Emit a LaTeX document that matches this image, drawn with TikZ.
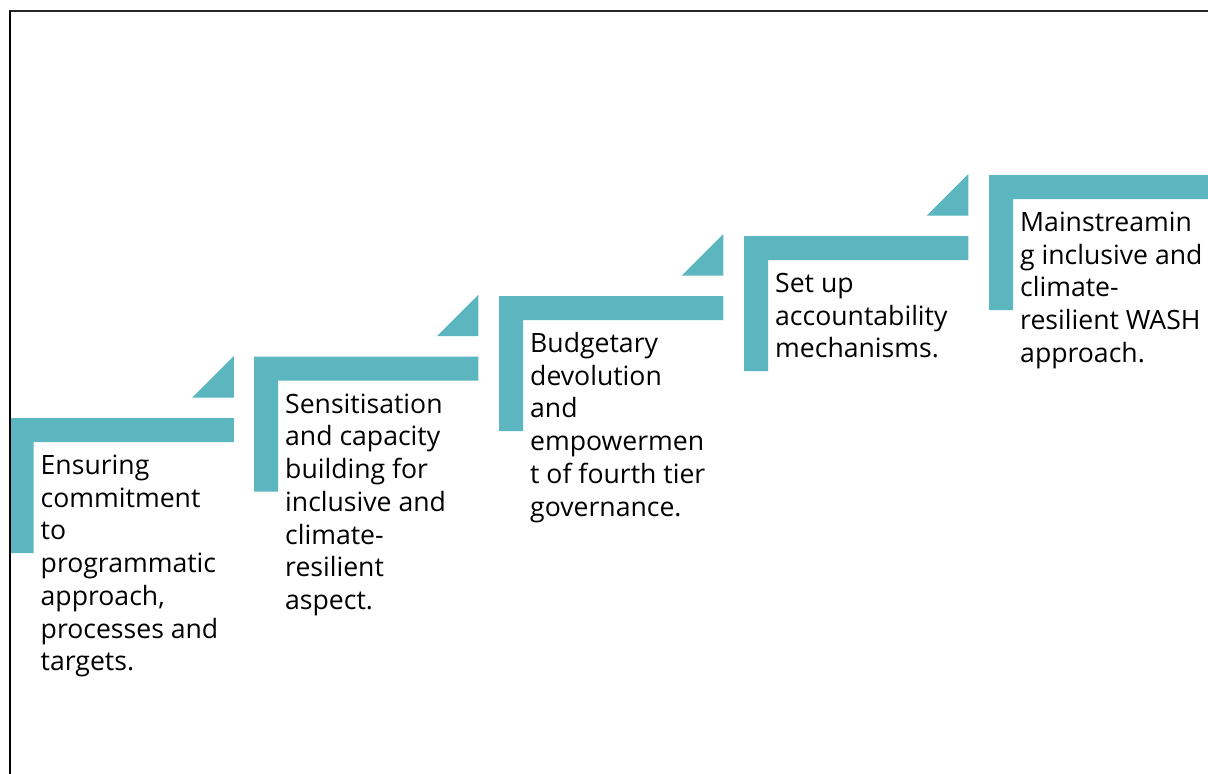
\documentclass[tikz,border=0pt]{standalone}
\usepackage{fontspec}
\setmainfont{Open Sans}
\definecolor{stepteal}{RGB}{91,182,192}
\newcommand{\stepL}[3]{%
  \fill[stepteal] (#1,#2) -- ++(224.3,0) -- ++(0,24) -- ++(-200.3,0) -- ++(0,111) -- ++(-24,0) -- cycle;
  \ifx#3y\fill[stepteal] (#1+224.3,#2-62) -- (#1+224.3,#2-20.5) -- (#1+182.8,#2-20.5) -- cycle;\fi
}
\begin{document}
\begin{tikzpicture}[x=1pt,y=-1pt,
  steptext/.style={anchor=base west, align=left, inner sep=0pt,
    font=\fontsize{26.6}{32.7}\selectfont, text=black}]
\useasboundingbox (0,0) rectangle (1208,774);
\clip (0,0) rectangle (1208,774);
\fill[white] (0,0) rectangle (1208,774);
% steps
\stepL{9.5}{418}{y}
\stepL{254}{356.7}{y}
\stepL{499}{296}{y}
\stepL{744}{236}{y}
\stepL{989}{175}{n}
% texts (anchor at baseline of the last line)
\node[steptext] (t1) at (9.5+31,418+56.5+6*32.7) {Ensuring\\commitment\\to\\programmatic\\approach,\\processes and\\targets.};
\node[steptext] (t2) at (254+31,356.7+56.5+6*32.7) {Sensitisation\\and capacity\\building for\\inclusive and\\climate-\\resilient\\aspect.};
\node[steptext] (t3) at (499+31,296+56.5+5*32.7) {Budgetary\\devolution\\and\\empowermen\\t of fourth tier\\governance.};
\node[steptext] (t4) at (744+31,236+56.5+2*32.7) {Set up\\accountability\\mechanisms.};
\node[steptext] (t5) at (989+31,175+56.5+4*32.7) {Mainstreamin\\g inclusive and\\climate-\\resilient WASH\\approach.};
% frame
\draw[line width=1.3pt, black!85] (9,11) -- (1208,11);
\draw[line width=2.2pt, black] (10,10.5) -- (10,774);
\end{tikzpicture}
\end{document}
